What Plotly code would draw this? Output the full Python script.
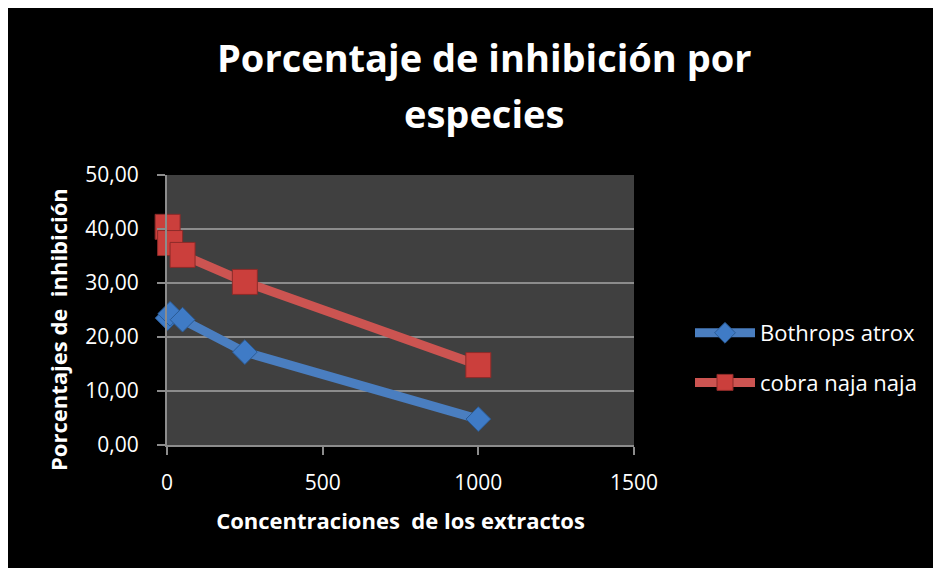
import plotly.graph_objects as go

concentraciones = [2, 10, 50, 250, 1000]
bothrops_atrox = [23.5, 24.3, 23.2, 17.2, 4.8]
cobra_naja = [40.4, 37.4, 35.2, 30.2, 14.8]

FUENTE = "Open Sans"
GRIS_REJILLA = "#8c8c8c"

# the page puts the figure 8px in from the top-left corner
W, H = 928, 560
L, R, T, B = 159, 302, 167, 123
PW, PH = W - L - R, H - T - B


def px_x(p):
    return (p - L) / PW


def px_y(p):
    return (H - B - p) / PH


fig = go.Figure()
fig.add_trace(go.Scatter(
    x=concentraciones, y=bothrops_atrox, name="Bothrops atrox",
    mode="lines+markers", legendgroup="a", cliponaxis=False,
    line=dict(color="#4A7EC0", width=9),
    marker=dict(symbol="diamond", size=19, color="#3F7BC6",
                line=dict(color="#2B5B95", width=1)),
))
fig.add_trace(go.Scatter(
    x=concentraciones, y=cobra_naja, name="cobra naja naja",
    mode="lines+markers", legendgroup="b", cliponaxis=False,
    line=dict(color="#CC5451", width=9),
    marker=dict(symbol="square", size=25, color="#CB3F3C",
                line=dict(color="#8C2B29", width=1)),
))

titulo = dict(family=FUENTE, size=38, color="white", weight="bold")
fig.add_annotation(text="Porcentaje de inhibición por", xref="paper", yref="paper",
                   x=px_x(476), y=px_y(49), xanchor="center", yanchor="middle",
                   showarrow=False, font=titulo)
fig.add_annotation(text="especies", xref="paper", yref="paper",
                   x=px_x(476), y=px_y(105), xanchor="center", yanchor="middle",
                   showarrow=False, font=titulo)

fig.add_annotation(
    text="Porcentajes de\u00a0 inhibición", textangle=-90,
    xref="paper", yref="paper", x=px_x(50), y=px_y(322),
    xanchor="center", yanchor="middle", showarrow=False,
    font=dict(family=FUENTE, size=22, color="white", weight="bold"),
)

fig.update_layout(
    width=W, height=H,
    margin=dict(l=L, r=R, t=T, b=B),
    paper_bgcolor="black",
    plot_bgcolor="#404040",
    separators=",.",
    font=dict(family=FUENTE, color="white", size=21),
    showlegend=True,
    legend=dict(
        x=px_x(682), y=px_y(350), xanchor="left", yanchor="middle",
        font=dict(family=FUENTE, size=22, color="white"),
        itemwidth=60, tracegroupgap=18, bgcolor="rgba(0,0,0,0)",
    ),
    xaxis=dict(
        range=[0, 1500], tickvals=[0, 500, 1000, 1500], tickformat="d",
        showgrid=False, zeroline=False,
        showline=True, linecolor=GRIS_REJILLA, linewidth=2,
        ticks="outside", ticklen=8, tickcolor=GRIS_REJILLA, tickwidth=2,
        ticklabelstandoff=10,
        title=dict(text="Concentraciones\u00a0 de los extractos", standoff=18,
                   font=dict(family=FUENTE, size=22, color="white", weight="bold")),
    ),
    yaxis=dict(
        range=[0, 50], tickvals=[0, 10, 20, 30, 40, 50], tickformat=".2f",
        showgrid=True, gridcolor=GRIS_REJILLA, gridwidth=2, zeroline=False,
        showline=True, linecolor=GRIS_REJILLA, linewidth=2,
        ticks="outside", ticklen=8, tickcolor=GRIS_REJILLA, tickwidth=2,
        ticklabelstandoff=14,
    ),
)

fig.write_html("out.html")
